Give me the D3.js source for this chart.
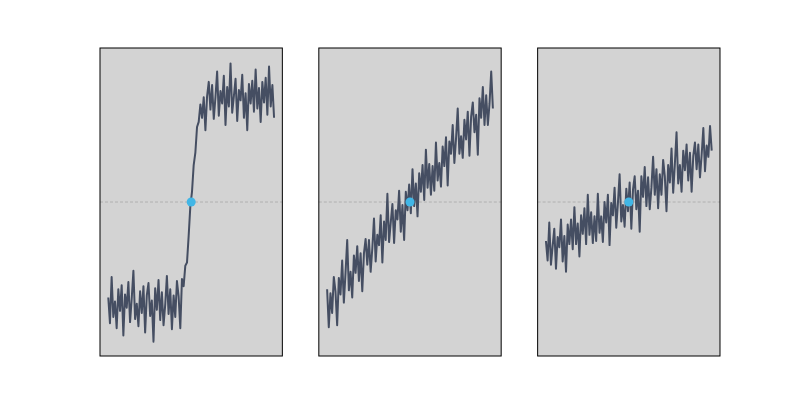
<!DOCTYPE html>
<html>
<head>
<meta charset="utf-8">
<script src="https://cdn.jsdelivr.net/npm/d3@7"></script>
<style>
  body { margin: 0; background: #fff; }
</style>
</head>
<body>
<svg id="chart" width="800" height="400"></svg>
<script>
// steep step
let stepValues = [
  -0.93, -1.18, -0.73, -1.12, -0.97, -1.23, -0.85, -1.06, -0.81, -1.30,
  -0.90, -1.03, -0.78, -1.17, -0.94, -0.67, -1.14, -0.99, -1.21, -0.87,
  -1.08, -0.82, -1.27, -0.91, -0.79, -1.11, -0.96, -1.36, -0.84, -1.05,
  -0.76, -1.15, -0.88, -1.20, -1.00, -0.72, -1.09, -0.85, -1.24, -0.91,
  -1.12, -0.77, -0.92, -1.23, -0.75, -0.82, -0.62, -0.59, -0.33, -0.04,
  0.10, 0.36, 0.48, 0.73, 0.78, 0.95, 0.82, 1.02, 0.70, 1.03,
  1.17, 0.90, 1.14, 0.81, 1.02, 1.27, 0.84, 1.08, 0.96, 1.23,
  0.75, 1.12, 0.93, 1.35, 0.87, 1.03, 1.20, 0.79, 1.09, 0.99,
  1.24, 0.82, 1.06, 0.70, 1.15, 0.96, 1.18, 0.88, 1.29, 0.91,
  1.11, 0.78, 1.17, 0.97, 1.21, 0.85, 1.32, 0.93, 1.14, 0.82
];

// gentle slope
let slopeValues = [
  -0.85, -1.22, -0.89, -1.08, -0.73, -0.87, -1.20, -0.74, -0.90, -0.57,
  -0.98, -0.69, -0.37, -0.86, -0.68, -0.93, -0.52, -0.69, -0.43, -0.77,
  -0.50, -0.87, -0.50, -0.36, -0.61, -0.37, -0.68, -0.45, -0.16, -0.58,
  -0.32, -0.42, -0.13, -0.59, -0.19, -0.37, 0.08, -0.39, -0.20, -0.02,
  -0.40, -0.08, -0.17, 0.11, -0.29, -0.03, -0.37, 0.10, -0.08, 0.17,
  -0.11, 0.32, -0.04, 0.18, -0.14, 0.28, 0.10, 0.36, 0.02, 0.51,
  0.14, 0.37, 0.07, 0.35, 0.11, 0.58, 0.21, 0.38, 0.15, 0.54,
  0.35, 0.63, 0.16, 0.59, 0.47, 0.75, 0.38, 0.62, 0.91, 0.47,
  0.64, 0.43, 0.80, 0.61, 0.88, 0.45, 0.83, 0.97, 0.68, 0.85,
  0.46, 1.01, 0.82, 1.12, 0.75, 1.04, 0.75, 0.96, 1.27, 0.91
];

// flat slope
let flatValues = [
  -0.38, -0.57, -0.20, -0.61, -0.43, -0.26, -0.65, -0.34, -0.44, -0.17,
  -0.58, -0.33, -0.68, -0.22, -0.41, -0.17, -0.46, -0.05, -0.41, -0.21,
  -0.53, -0.13, -0.31, -0.06, -0.41, 0.07, -0.32, -0.10, -0.40, -0.14,
  -0.38, 0.08, -0.30, -0.14, -0.39, 0.00, -0.20, 0.07, -0.42, -0.01,
  -0.13, 0.14, -0.25, -0.01, 0.27, -0.19, -0.03, -0.24, 0.13, -0.09,
  0.19, -0.26, 0.12, 0.25, -0.07, 0.11, -0.29, 0.25, 0.05, 0.34,
  -0.04, 0.24, -0.07, 0.14, 0.44, 0.07, 0.32, -0.06, 0.27, 0.07,
  0.41, 0.25, -0.09, 0.36, 0.19, 0.52, 0.09, 0.37, 0.68, 0.18,
  0.36, 0.10, 0.50, 0.31, 0.56, 0.21, 0.48, 0.10, 0.45, 0.58,
  0.32, 0.56, 0.24, 0.46, 0.72, 0.30, 0.55, 0.44, 0.74, 0.50
];

let panels = [stepValues, slopeValues, flatValues];
let yLimits = [-1.5, 1.5];

let lineColor = "#454e62";
let dotColor = "#41b6e6";

let svg = d3.select("#chart");

let panelWidth = 182.35;
let panelGap = 36.47;
let panelTop = 48;
let panelHeight = 308;

panels.forEach(function(values, k) {
    let left = 100 + k * (panelWidth + panelGap);
    let n = values.length;
    let pad = (n - 1) * 0.05;

    let x = d3.scaleLinear()
        .domain([-pad, n - 1 + pad])
        .range([0, panelWidth]);

    let y = d3.scaleLinear()
        .domain(yLimits)
        .range([panelHeight, 0]);

    let g = svg.append("g")
        .attr("transform", "translate(" + left + "," + panelTop + ")");

    g.append("rect")
        .attr("width", panelWidth)
        .attr("height", panelHeight)
        .style("fill", "#d3d3d3");

    // zero reference
    g.append("line")
        .attr("x1", 0)
        .attr("x2", panelWidth)
        .attr("y1", y(0))
        .attr("y2", y(0))
        .style("stroke", "#a8a8a8")
        .style("stroke-width", 0.8)
        .style("stroke-dasharray", "3,2");

    let line = d3.line()
        .x(function(d, i) { return x(i); })
        .y(function(d) { return y(d); });

    g.append("path")
        .datum(values)
        .attr("d", line)
        .style("fill", "none")
        .style("stroke", lineColor)
        .style("stroke-width", 2)
        .style("stroke-linejoin", "round");

    g.append("circle")
        .attr("cx", x((n - 1) / 2))
        .attr("cy", y(0))
        .attr("r", 4.5)
        .style("fill", dotColor);

    g.append("rect")
        .attr("width", panelWidth)
        .attr("height", panelHeight)
        .style("fill", "none")
        .style("stroke", "#000")
        .style("stroke-width", 1);
});
</script>
</body>
</html>
